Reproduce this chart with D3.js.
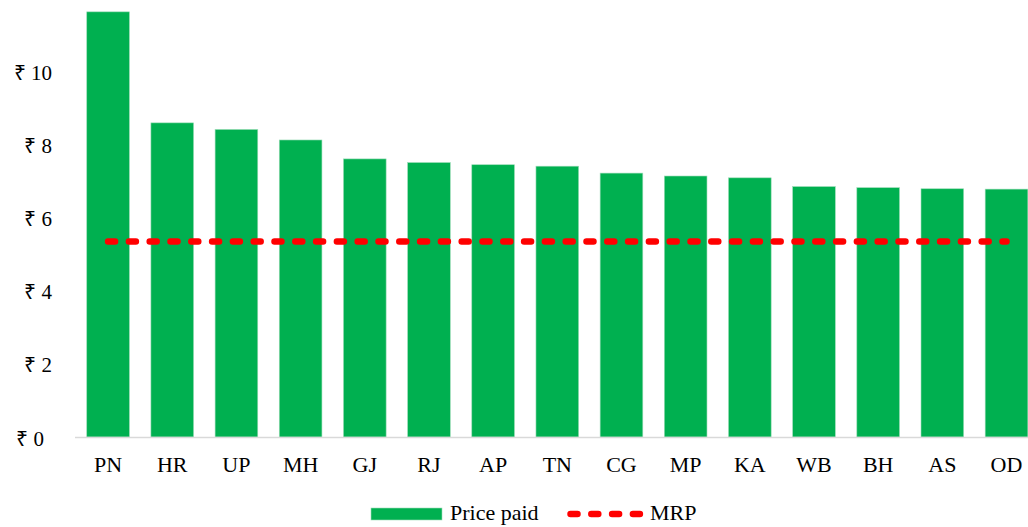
<!DOCTYPE html>
<html>
<head>
<meta charset="utf-8">
<script src="https://cdn.jsdelivr.net/npm/d3@7"></script>
<style>
  body { margin: 0; background: #fff; }
  svg { display: block; }
</style>
</head>
<body>
<div id="chart"></div>
<script>
// states, sorted by price paid
const states = ["PN", "HR", "UP", "MH", "GJ", "RJ", "AP", "TN", "CG", "MP", "KA", "WB", "BH", "AS", "OD"];
const pricePaid = [11.68, 8.63, 8.45, 8.16, 7.64, 7.54, 7.48, 7.44, 7.25, 7.17, 7.12, 6.88, 6.85, 6.82, 6.81];
const mrp = 5.37;
const yTicks = [0, 2, 4, 6, 8, 10];
const legendLabels = ["Price paid", "MRP"];

const width = 1028, height = 527;
const green = "#00b050", red = "#ff0000";
const font = "Liberation Serif";

const svg = d3.select("#chart").append("svg")
  .attr("width", width)
  .attr("height", height)
  .attr("font-family", font);

const x = d3.scaleBand()
  .domain(states)
  .range([76, 1038.6])
  .paddingInner(0.335)
  .paddingOuter(0.1675);

const y = d3.scaleLinear()
  .domain([0, 10])
  .range([437, 73]);

// y tick labels (no axis line, no grid)
svg.append("g").selectAll("text")
  .data(yTicks)
  .join("text")
  .attr("x", d => d === 0 ? 44 : 52)
  .attr("y", d => y(d) + (d === 0 ? 2 : 0))
  .attr("dy", "0.35em")
  .attr("text-anchor", "end")
  .attr("font-family", font)
  .attr("font-size", 21)
  .text(d => "₹ " + d);

// bars
svg.append("g").selectAll("rect")
  .data(pricePaid)
  .join("rect")
  .attr("x", (d, i) => x(states[i]))
  .attr("y", d => y(d))
  .attr("width", x.bandwidth())
  .attr("height", d => y(0) - y(d))
  .attr("fill", green)
  .attr("stroke", "#9ddcb8")
  .attr("stroke-width", 0.6);

// x axis line
svg.append("line")
  .attr("x1", 75).attr("x2", 1040)
  .attr("y1", y(0) + 0.5).attr("y2", y(0) + 0.5)
  .attr("stroke", "#d9d9d9")
  .attr("stroke-width", 1.6);

// x labels
svg.append("g").selectAll("text")
  .data(states)
  .join("text")
  .attr("x", d => x(d) + x.bandwidth() / 2)
  .attr("y", 472)
  .attr("text-anchor", "middle")
  .attr("font-family", font)
  .attr("font-size", 22)
  .text(d => d);

// MRP dashed line
const line = d3.line().x(d => d[0]).y(d => d[1]);
svg.append("path")
  .attr("d", line([
    [x(states[0]) + x.bandwidth() / 2, y(mrp)],
    [x(states[states.length - 1]) + x.bandwidth() / 2, y(mrp)]
  ]))
  .attr("fill", "none")
  .attr("stroke", red)
  .attr("stroke-width", 6.5)
  .attr("stroke-linecap", "round")
  .attr("stroke-dasharray", "7,13.8");

// legend
const legend = svg.append("g");
legend.append("rect")
  .attr("x", 371).attr("y", 508)
  .attr("width", 71).attr("height", 12)
  .attr("fill", green)
  .attr("stroke", "#9ddcb8")
  .attr("stroke-width", 0.6);
legend.append("text")
  .attr("x", 450).attr("y", 520)
  .attr("font-family", font)
  .attr("font-size", 22)
  .text(legendLabels[0]);
legend.append("path")
  .attr("d", line([[570.5, 514], [640, 514]]))
  .attr("stroke", red)
  .attr("stroke-width", 6.5)
  .attr("stroke-linecap", "round")
  .attr("stroke-dasharray", "7,13.8");
legend.append("text")
  .attr("x", 650).attr("y", 520)
  .attr("font-family", font)
  .attr("font-size", 22)
  .text(legendLabels[1]);
</script>
</body>
</html>
